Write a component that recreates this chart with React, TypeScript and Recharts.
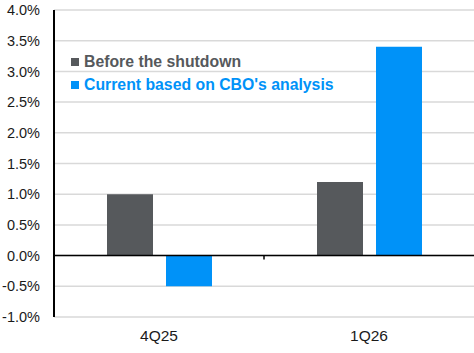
import React from 'react';
import {
  BarChart,
  Bar,
  XAxis,
  YAxis,
  CartesianGrid,
  ReferenceLine,
} from 'recharts';

const quarters = ['4Q25', '1Q26'];
const beforeShutdown = [1.0, 1.2];
const currentCbo = [-0.5, 3.4];
const yTicks = [-1, -0.5, 0, 0.5, 1, 1.5, 2, 2.5, 3, 3.5, 4];

const GRAY = '#56595c';
const BLUE = '#0092f8';
const FONT = '"Liberation Sans", Arial, sans-serif';

const data = quarters.map((q, i) => ({
  quarter: q,
  before: beforeShutdown[i],
  current: currentCbo[i],
}));

const legendItems = [
  { label: 'Before the shutdown', color: GRAY },
  { label: "Current based on CBO's analysis", color: BLUE },
];

function LegendBox() {
  return (
    <div
      style={{
        position: 'absolute',
        left: 71,
        top: 50,
        fontFamily: FONT,
        fontWeight: 700,
        fontSize: 15.8,
      }}
    >
      {legendItems.map((item) => (
        <div
          key={item.label}
          style={{ display: 'flex', alignItems: 'center', height: 23, color: item.color, whiteSpace: 'nowrap' }}
        >
          <span
            style={{
              display: 'inline-block',
              width: 8,
              height: 8,
              background: item.color,
              marginRight: 5,
            }}
          />
          {item.label}
        </div>
      ))}
    </div>
  );
}

// small tick mark under the zero line between the two quarters
function MidTick(props: any) {
  const vb = props.viewBox || {};
  const x = vb.x + vb.width / 2;
  return <line x1={x} x2={x} y1={vb.y} y2={vb.y + 4} stroke="#000" strokeWidth={1.5} />;
}

export default function App() {
  return (
    <div style={{ position: 'absolute', left: 0, top: 0, width: 474, height: 353, background: '#fff' }}>
      <BarChart
        width={474}
        height={353}
        data={data}
        margin={{ top: 10, right: 0, left: 0, bottom: 0 }}
        barSize={46}
        barGap={13}
      >
        <CartesianGrid vertical={false} stroke="#d9d9d9" strokeWidth={1.5} />
        <XAxis
          dataKey="quarter"
          height={36}
          axisLine={false}
          tickLine={false}
          tickSize={0}
          tickMargin={13}
          tick={{ fill: '#1a1a1a', fontSize: 15.5, fontFamily: FONT }}
        />
        <YAxis
          width={54}
          domain={[-1, 4]}
          ticks={yTicks}
          interval={0}
          tickLine={false}
          tickSize={0}
          tickMargin={14}
          axisLine={{ stroke: '#000', strokeWidth: 2 }}
          tickFormatter={(v: number) => `${v.toFixed(1)}%`}
          tick={{ fill: '#1a1a1a', fontSize: 14.5, fontFamily: FONT }}
        />
        <ReferenceLine y={0} stroke="#000" strokeWidth={1.5} label={<MidTick />} />
        <Bar dataKey="before" fill={GRAY} isAnimationActive={false} />
        <Bar dataKey="current" fill={BLUE} isAnimationActive={false} />
      </BarChart>
      <LegendBox />
    </div>
  );
}
